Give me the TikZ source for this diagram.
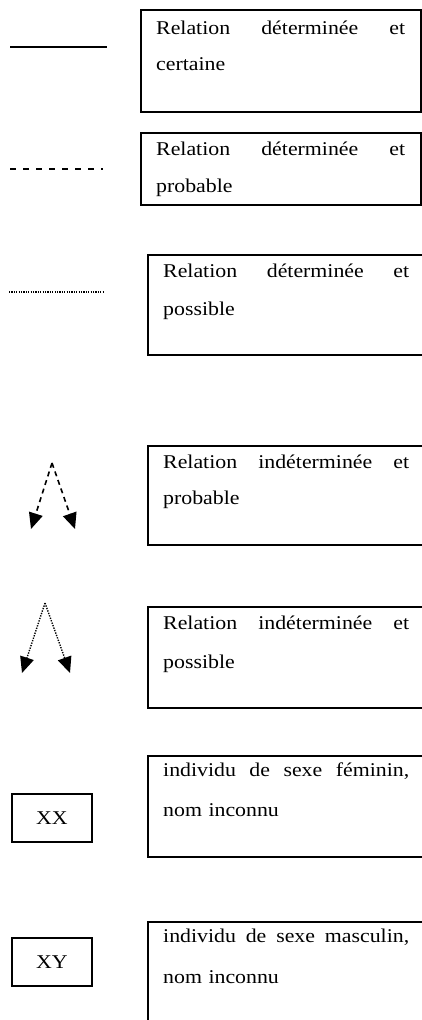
\documentclass[tikz,border=0pt]{standalone}
\usepackage{fontspec}
\setmainfont{Liberation Serif}[FakeStretch=1.12]
\usetikzlibrary{arrows.meta}
\begin{document}
\begin{tikzpicture}[x=1pt, y=-1pt,
    legbox/.style={line width=2.2pt},
    legtext/.style={inner sep=0pt, anchor=base west, text width=#1, align=left,
                    font=\fontsize{19.5}{23}\selectfont},
    legtext/.default=246pt,
    sexbox/.style={draw, line width=1.2pt, minimum width=80pt, minimum height=48pt,
                   inner sep=0pt, font=\fontsize{19.5}{23}\selectfont},
    tip/.style={-{Triangle[length=16pt, width=14pt]}}]
  \useasboundingbox (0,0) rectangle (422,1020);
  \clip (0,0) rectangle (422,1020);
  % traits
  \coordinate (s1) at (10,47);  \coordinate (s2) at (107,47);
  \coordinate (d1) at (10,169); \coordinate (d2) at (103,169);
  \coordinate (p1) at (9,292);  \coordinate (p2) at (103,292);
  \draw[line width=2.2pt] (s1) -- (s2);
  \draw[line width=1.6pt, dash pattern=on 6pt off 7pt] (d1) -- (d2);
  \draw[line width=1.3pt, dash pattern=on 1.2pt off 1.2pt] (p1) -- (p2);
  % fleches
  \coordinate (pa) at (52,463); \coordinate (pl) at (31,529); \coordinate (pr) at (75,529);
  \coordinate (qa) at (45,603); \coordinate (ql) at (22,673); \coordinate (qr) at (70,673);
  \draw[tip, line width=1.6pt, dash pattern=on 5pt off 4pt] (pa) -- (pl);
  \draw[tip, line width=1.6pt, dash pattern=on 5pt off 4pt] (pa) -- (pr);
  \draw[tip, line width=1.4pt, dash pattern=on 1.3pt off 1.3pt] (qa) -- (ql);
  \draw[tip, line width=1.4pt, dash pattern=on 1.3pt off 1.3pt] (qa) -- (qr);
  % individus
  \node[sexbox] (xx) at (52,818) {XX};
  \node[sexbox] (xy) at (52,962) {XY};
  % cadres
  \draw[legbox] (141,10)  rectangle (421,112);
  \draw[legbox] (141,133) rectangle (421,205);
  \draw[legbox] (148,255) rectangle (430,355);
  \draw[legbox] (148,446) rectangle (430,545);
  \draw[legbox] (148,607) rectangle (430,708);
  \draw[legbox] (148,756) rectangle (430,857);
  \draw[legbox] (148,922) rectangle (430,1030);
  % textes
  \node[legtext=249pt] (t1a) at (156,34)  {Relation\hfill déterminée\hfill et};
  \node[legtext]       (t1b) at (156,70)  {certaine};
  \node[legtext=249pt] (t2a) at (156,155) {Relation\hfill déterminée\hfill et};
  \node[legtext]       (t2b) at (156,192) {probable};
  \node[legtext]       (t3a) at (163,277) {Relation\hfill déterminée\hfill et};
  \node[legtext]       (t3b) at (163,315) {possible};
  \node[legtext]       (t4a) at (163,468) {Relation\hfill indéterminée\hfill et};
  \node[legtext]       (t4b) at (163,504) {probable};
  \node[legtext]       (t5a) at (163,629) {Relation\hfill indéterminée\hfill et};
  \node[legtext]       (t5b) at (163,668) {possible};
  \node[legtext]       (t6a) at (163,776) {individu\hfill de\hfill sexe\hfill féminin,};
  \node[legtext]       (t6b) at (163,816) {nom inconnu};
  \node[legtext]       (t7a) at (163,942) {individu\hfill de\hfill sexe\hfill masculin,};
  \node[legtext]       (t7b) at (163,983) {nom inconnu};
\end{tikzpicture}
\end{document}
